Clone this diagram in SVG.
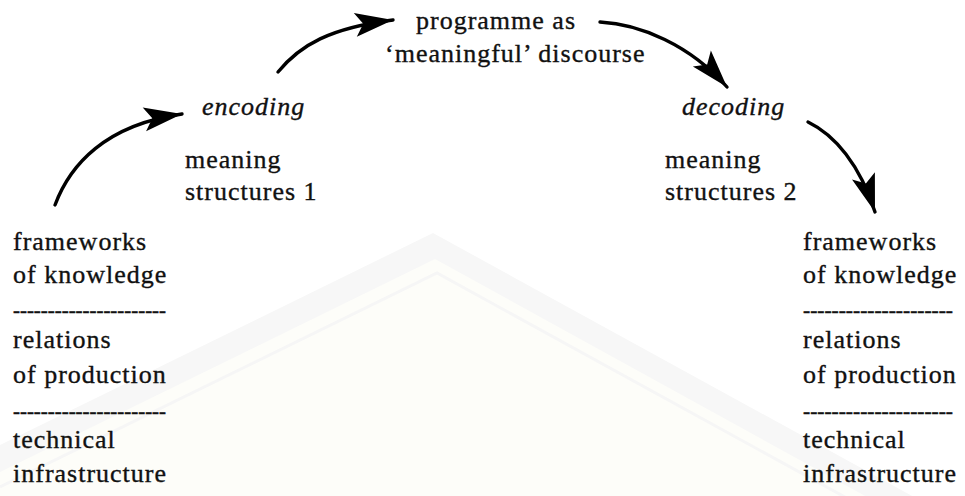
<svg xmlns="http://www.w3.org/2000/svg" width="965" height="496" viewBox="0 0 965 496">
  <style>
    .t { font-family: "Liberation Serif", "Times New Roman", serif; font-size: 26px; letter-spacing: 1px; fill: #111; stroke: #111; stroke-width: 0.35px; }
    .i { font-style: italic; }
    .d { font-family: "Liberation Serif", "Times New Roman", serif; font-size: 21px; fill: #111; stroke: #111; stroke-width: 0.5px; }
    .arr { fill: none; stroke: #000; stroke-width: 3.4; stroke-linecap: round; marker-end: url(#head); }
  </style>
  <defs>
    <marker id="head" markerUnits="userSpaceOnUse" markerWidth="42" markerHeight="28" refX="38" refY="12" orient="auto" overflow="visible">
      <path d="M0,0 L38,12 L0,24 L8,12 Z" fill="#000"/>
    </marker>
  </defs>
  <rect width="965" height="496" fill="#fff"/>
  <g id="watermark">
    <polygon points="433,233 965,525 965,496 0,496 0,445" fill="#f7f7f7"/>
    <polygon points="435,259 965,551 965,496 0,496 0,472" fill="#fdfdf9"/>
    <polyline points="0,487 437,273 965,563" fill="none" stroke="#f6f6f6" stroke-width="3"/>
  </g>
  <g id="connectors">
    <path class="arr" d="M55,205 C70,165 105,125 182,114"/>
    <path class="arr" d="M278,72 C300,45 330,28 393,20"/>
    <path class="arr" d="M600,22 C640,24 690,45 727,87"/>
    <path class="arr" d="M808,122 C835,135 860,165 875,212"/>
  </g>
  <g id="programme">
    <text class="t" x="416" y="29">programme as</text>
    <text class="t" x="385" y="62">‘meaningful’ discourse</text>
  </g>
  <g id="encoding">
    <text class="t i" x="202" y="115">encoding</text>
  </g>
  <g id="meaning1">
    <text class="t" x="185" y="168">meaning</text>
    <text class="t" x="185" y="200">structures 1</text>
  </g>
  <g id="decoding">
    <text class="t i" x="682" y="115">decoding</text>
  </g>
  <g id="meaning2">
    <text class="t" x="665" y="168">meaning</text>
    <text class="t" x="665" y="200">structures 2</text>
  </g>
  <g id="left-stack">
    <text class="t" x="13" y="250">frameworks</text>
    <text class="t" x="13" y="283">of knowledge</text>
    <text class="d" x="13" y="317" textLength="153" lengthAdjust="spacingAndGlyphs">----------------------</text>
    <text class="t" x="13" y="348">relations</text>
    <text class="t" x="13" y="383">of production</text>
    <text class="d" x="13" y="418" textLength="153" lengthAdjust="spacingAndGlyphs">----------------------</text>
    <text class="t" x="13" y="448">technical</text>
    <text class="t" x="13" y="482">infrastructure</text>
  </g>
  <g id="right-stack">
    <text class="t" x="803" y="250">frameworks</text>
    <text class="t" x="803" y="283">of knowledge</text>
    <text class="d" x="803" y="317" textLength="150" lengthAdjust="spacingAndGlyphs">---------------------</text>
    <text class="t" x="803" y="348">relations</text>
    <text class="t" x="803" y="383">of production</text>
    <text class="d" x="803" y="418" textLength="150" lengthAdjust="spacingAndGlyphs">---------------------</text>
    <text class="t" x="803" y="448">technical</text>
    <text class="t" x="803" y="482">infrastructure</text>
  </g>
</svg>
